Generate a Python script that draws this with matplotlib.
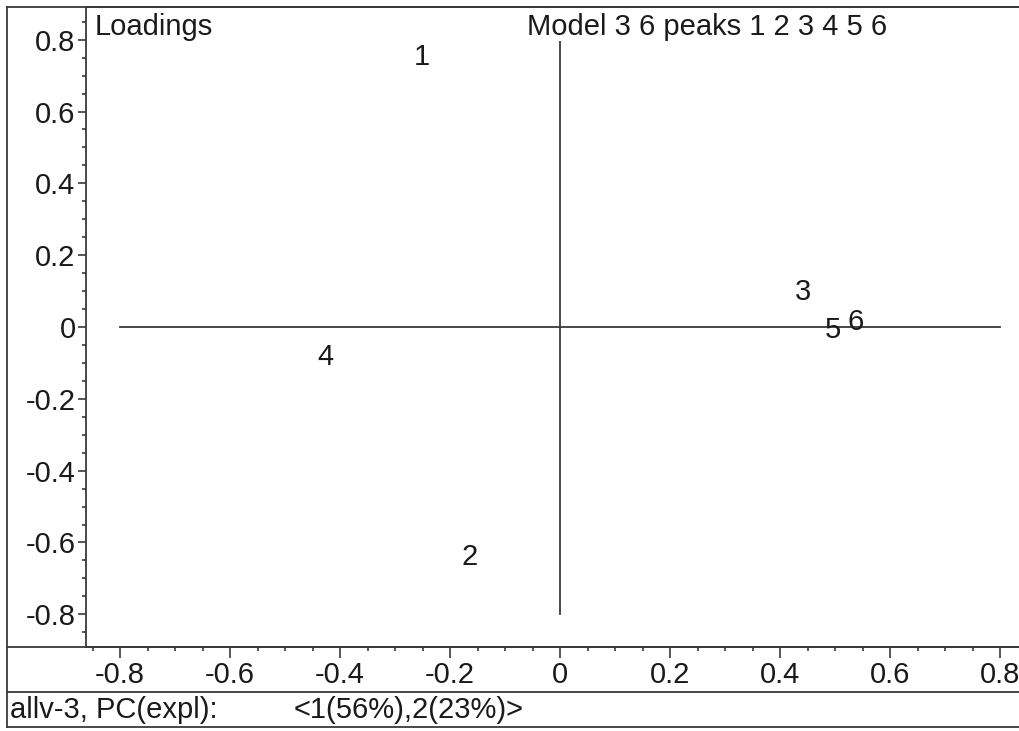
import numpy as np
import matplotlib.pyplot as plt
from matplotlib.lines import Line2D
from matplotlib.ticker import MultipleLocator

# loadings of the six peaks on PC1 / PC2
peak_names = ["1", "2", "3", "4", "5", "6"]
pc1 = [-0.251, -0.165, 0.441, -0.427, 0.495, 0.538]
pc2 = [0.752, -0.640, 0.098, -0.083, -0.009, 0.015]

major_ticks = [-0.8, -0.6, -0.4, -0.2, 0.0, 0.2, 0.4, 0.6, 0.8]
tick_labels = ["-0.8", "-0.6", "-0.4", "-0.2", "0", "0.2", "0.4", "0.6", "0.8"]

title_left = "Loadings"
title_right = "Model 3 6 peaks 1 2 3 4 5 6"
status_left = "allv-3, PC(expl):"
status_right = "<1(56%),2(23%)>"

plt.rcParams['font.family'] = ['Liberation Sans', 'DejaVu Sans']
fs = 21
ink = "#1a1a1a"
edge = "#3a3a3a"

W, H = 1020, 731
fig = plt.figure(figsize=(W / 100, H / 100), dpi=100)

# main plot area in pixel coordinates
left_px, right_px, top_px, bot_px = 86, 1020, 7, 647
ax = fig.add_axes([left_px / W, 1 - bot_px / H, (right_px - left_px) / W, (bot_px - top_px) / H])
ax.set_xlim(-0.862, 0.836)
ax.set_ylim(-0.891, 0.891)

ax.spines["right"].set_visible(False)
for s in ["left", "bottom", "top"]:
    ax.spines[s].set_color(edge)
    ax.spines[s].set_linewidth(1.3)

ax.set_xticks(major_ticks)
ax.set_xticklabels(tick_labels)
ax.set_yticks(major_ticks)
ax.set_yticklabels(tick_labels)
ax.xaxis.set_minor_locator(MultipleLocator(0.05))
ax.yaxis.set_minor_locator(MultipleLocator(0.05))
ax.tick_params(which="major", direction="out", length=6, width=1.2, color=edge,
               labelsize=fs, labelcolor=ink)
ax.tick_params(which="minor", direction="out", length=3, width=1.2, color=edge)
ax.tick_params(axis="x", which="major", length=8, pad=2)
ax.tick_params(axis="y", which="major", pad=1.5)

# cross through the origin
ax.plot([-0.8, 0.8], [0, 0], color=edge, lw=1.3, zorder=1)
ax.plot([0, 0], [-0.8, 0.8], color=edge, lw=1.3, zorder=1)

for name, x, y in zip(peak_names, pc1, pc2):
    ax.text(x, y, name, ha="center", va="center", fontsize=fs, color=ink, zorder=3)

ax.text(9 / 934, (bot_px - 35) / 640, title_left, transform=ax.transAxes,
        fontsize=fs, color=ink, va="baseline", ha="left")
ax.text((527 - left_px) / 934, (bot_px - 35) / 640, title_right, transform=ax.transAxes,
        fontsize=fs, color=ink, va="baseline", ha="left",
        bbox=dict(facecolor="white", edgecolor="none", pad=0))

# frame and status bar
def hline(y, x0=7, x1=W):
    fig.add_artist(Line2D([x0 / W, x1 / W], [1 - y / H, 1 - y / H], color=edge, lw=1.3))

def vline(x, y0, y1):
    fig.add_artist(Line2D([x / W, x / W], [1 - y0 / H, 1 - y1 / H], color=edge, lw=1.3))

hline(7)
hline(647)
hline(692)
hline(727)
vline(7, 7, 727)

fig.text(10 / W, 1 - 718 / H, status_left, fontsize=fs, color=ink, va="baseline")
fig.text(294 / W, 1 - 718 / H, status_right, fontsize=fs, color=ink, va="baseline")

fig.savefig("out.png", dpi=100, facecolor="white")
